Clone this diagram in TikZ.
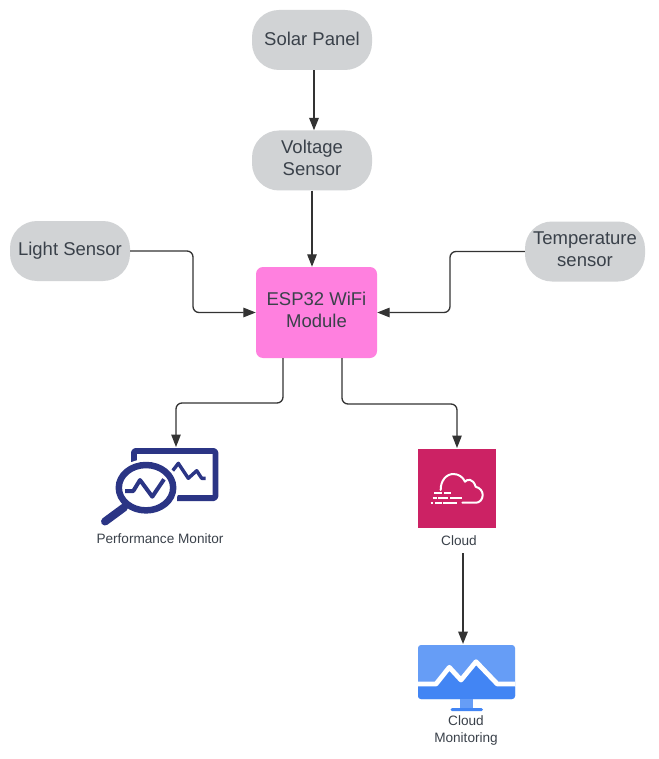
\documentclass[tikz,border=0pt]{standalone}
\usepackage{fontspec}
\setmainfont{Liberation Sans}
\usetikzlibrary{arrows.meta,positioning}
\definecolor{txt}{HTML}{3A414A}
\definecolor{pill}{HTML}{D1D3D5}
\definecolor{esp}{HTML}{FF80DF}
\definecolor{line}{HTML}{333333}
\definecolor{perf}{HTML}{2B3585}
\definecolor{cloudc}{HTML}{CC2264}
\definecolor{monl}{HTML}{669DF6}
\definecolor{mond}{HTML}{4285F4}
\newcommand{\liftline}[2]{\raisebox{#1}{\begin{tabular}{@{}c@{}}#2\end{tabular}}}
\tikzset{
  pillbox/.style={draw=none,fill=pill,rounded corners=27pt,minimum width=120pt,minimum height=60pt,inner sep=0pt,align=center,text=txt,font=\fontsize{18.5}{22}\selectfont},
  espbox/.style={draw=none,fill=esp,rounded corners=7pt,minimum width=121pt,minimum height=91pt,inner sep=0pt,align=center,text=txt,font=\fontsize{18.5}{22}\selectfont},
  caplabel/.style={inner sep=0pt,align=center,text=txt,font=\fontsize{13.6}{17}\selectfont},
  conn/.style={draw=line,line width=1.3pt,rounded corners=6pt,-{Triangle[length=12.5pt,width=9.5pt]}},
  thickconn/.style={conn,line width=1.8pt},
  icon/.style={draw=perf,line cap=round,line join=round},
  cloudline/.style={draw=white,line width=2pt,line cap=round,line join=round},
}
\begin{document}
\begin{tikzpicture}[x=1pt,y=-1pt]
\useasboundingbox (0,0) rectangle (658,759);
\fill[white] (0,0) rectangle (658,759);
% boxes
\node[pillbox] (solar) at (312,40) {\raisebox{3pt}{Solar Panel}};
\node[pillbox] (volt) at (312,160.5) {\liftline{2.5pt}{Voltage\\Sensor}};
\node[pillbox] (light) at (70,251) {Light Sensor};
\node[pillbox] (temp) at (585,251.5) {\liftline{2.5pt}{Temperature\\sensor}};
\node[espbox] (esp) at (316.5,312.5) {\liftline{2.5pt}{ESP32 WiFi\\Module}};
% icon anchors
\coordinate (perfin) at (176,447);
\coordinate (cloudin) at (457,448);
\coordinate (cloudout) at (463,553);
\coordinate (monin) at (463,644);
% performance monitor icon
\draw[icon,line width=5.8pt,line cap=butt,rounded corners=1.5pt] (133.9,463) -- (133.9,450.9) -- (215.4,450.9) -- (215.4,498.1) -- (177,498.1);
\draw[icon,line width=3.4pt,line cap=butt] (172.7,470.7) -- (178.3,463.3) -- (188.3,478.3) -- (196.7,470.7) -- (201.7,478.3) -- (205.7,478.3);
\fill[white] (146,487.7) ellipse (33 and 28.5);
\draw[icon,line width=6.5pt] (146,487.7) ellipse (27.2 and 22.7);
\draw[icon,line width=4pt,line cap=butt] (125,491) -- (133.3,491) -- (140,480) -- (152.3,496.7) -- (164,479.3);
\draw[icon,line width=8pt] (124,507.5) -- (105,521.5);
\node[caplabel] (perflabel) at (160,539) {Performance Monitor};
% cloud icon
\fill[cloudc] (418,449) rectangle (496,528);
\draw[cloudline] (440.7,490) .. controls (440.5,481) and (446,474) .. (453.3,474) .. controls (458.5,474) and (463,477) .. (465,481.7)
  .. controls (467,479) and (473,478) .. (475.7,486.7) .. controls (480,488) and (482.7,491) .. (482.7,495)
  .. controls (482.7,499.5) and (479.5,502.7) .. (476,502.7) -- (462.3,502.7);
\foreach \a/\b/\c in {434.3/441.7/493.3,444.3/450.7/493.3,432.7/436.7/498,438.3/448.3/498,450/461.7/498,430.7/433.3/502.7,435/441.7/502.7,443.3/457/502.7}
  \draw[cloudline,line width=1.7pt,line cap=butt] (\a,\c) -- (\b,\c);
\node[caplabel] (cloudlabel) at (459,540.5) {Cloud};
% cloud monitoring icon
\fill[monl,rounded corners=3pt] (418,645) rectangle (515,699);
\fill[mond,rounded corners=3pt] (418,684) -- (436,684) -- (449.3,667.3) -- (461,680) -- (476,661.7) -- (497.3,684) -- (515,684) -- (515,699) -- (418,699) -- cycle;
\draw[white,line width=4.8pt,line join=round] (418,684) -- (436,684) -- (449.3,667.3) -- (461,680) -- (476,661.7) -- (497.3,684) -- (515,684);
\fill[monl] (460,699) rectangle (473,708);
\fill[mond,rounded corners=1.5pt] (450.5,708) rectangle (483,711);
\node[caplabel] (monlabel) at (466,730) {Cloud\\Monitoring};
% connectors
\draw[thickconn] ([xshift=2pt]solar.south) -- ([xshift=2pt]volt.north);
\draw[conn] (volt.south) -- (esp.north -| volt.south);
\draw[conn] (light.east) -- (193,251) -- (193,312.5) -- (esp.west);
\draw[conn] (temp.west) -- (450,251.5) -- (450,312.5) -- (esp.east);
\draw[conn] ([xshift=-33.5pt]esp.south) -- (283,403) -- (176,403) -- (perfin);
\draw[conn] ([xshift=25.5pt]esp.south) -- (342,404) -- (457,404) -- (cloudin);
\draw[thickconn] (cloudout) -- (monin);
\end{tikzpicture}
\end{document}
